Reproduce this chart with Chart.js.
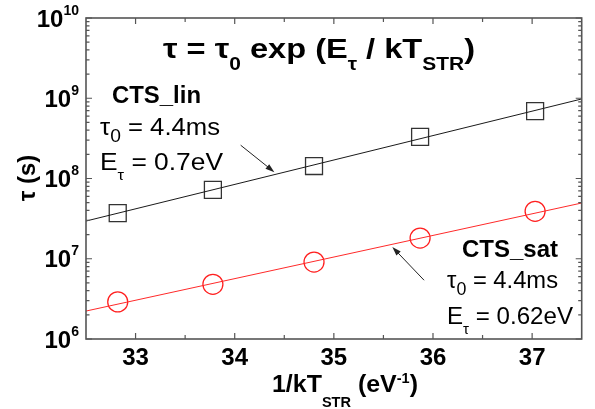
<!DOCTYPE html>
<html><head><meta charset="utf-8">
<script src="https://cdn.jsdelivr.net/npm/chart.js@4/dist/chart.umd.min.js"></script>
<style>html,body{margin:0;padding:0;background:#fff;overflow:hidden}canvas{display:block}</style>
</head><body>
<canvas id="c" width="595" height="409"></canvas>
<script>
// ---- data ----
const xValues   = [32.82, 33.78, 34.80, 35.87, 37.03];   // 1/kT_STR (eV^-1)
const linValues = [3.7e7, 7.2e7, 1.43e8, 3.3e8, 6.9e8];  // CTS_lin tau (s)
const satValues = [2.9e6, 4.8e6, 9.1e6, 1.81e7, 3.9e7];  // CTS_sat tau (s)
const fitX      = [32.5, 37.5];
const linFit    = [2.95e7, 9.8e8];
const satFit    = [2.23e6, 4.95e7];
const xTicks    = [33, 34, 35, 36, 37];
const xMinor    = [33.5, 34.5, 35.5, 36.5];
const yExponents = [6, 7, 8, 9, 10];
const arrowLin  = [[34.06, 2.6e8], [34.40, 1.2e8]];
const arrowSat  = [[35.91, 5.4e6], [35.59, 1.4e7]];

const FAM = '"Liberation Sans", Arial, sans-serif';
function fnt(size, bold){ return (bold ? 'bold ' : '') + size + 'px ' + FAM; }

// rich text: segs = [text, size, bold, dy]
function rich(ctx, x, y, segs, right, align){
  let w = 0;
  segs.forEach(s => { ctx.font = fnt(s[1], s[2]); w += ctx.measureText(s[0]).width; });
  let sx = 1;
  if (right) sx = (right - x) / w;
  if (align === 'right') x = x - w;
  if (align === 'center') x = x - w / 2;
  ctx.save();
  ctx.translate(x, y); ctx.scale(sx, 1);
  ctx.textAlign = 'left'; ctx.textBaseline = 'alphabetic';
  let cx = 0;
  segs.forEach(s => {
    ctx.font = fnt(s[1], s[2]);
    ctx.fillText(s[0], cx, s[3] || 0);
    cx += ctx.measureText(s[0]).width;
  });
  ctx.restore();
}

function arrow(ctx, x1, y1, x2, y2, color){
  ctx.save();
  ctx.strokeStyle = color; ctx.fillStyle = color; ctx.lineWidth = 1;
  const a = Math.atan2(y2 - y1, x2 - x1);
  const L = 9, H = 3;
  ctx.beginPath(); ctx.moveTo(x1, y1);
  ctx.lineTo(x2 - L * Math.cos(a) * 0.8, y2 - L * Math.sin(a) * 0.8); ctx.stroke();
  ctx.beginPath();
  ctx.moveTo(x2, y2);
  ctx.lineTo(x2 - L * Math.cos(a) + H * Math.sin(a), y2 - L * Math.sin(a) - H * Math.cos(a));
  ctx.lineTo(x2 - L * Math.cos(a) - H * Math.sin(a), y2 - L * Math.sin(a) + H * Math.cos(a));
  ctx.closePath(); ctx.fill();
  ctx.restore();
}

const decor = {
  id: 'decor',
  afterDatasetsDraw(chart){
    const ctx = chart.ctx, ca = chart.chartArea;
    const xs = chart.scales.x, ys = chart.scales.y;
    ctx.save();
    // frame
    ctx.strokeStyle = '#555'; ctx.lineWidth = 1.6;
    ctx.strokeRect(ca.left, ca.top, ca.right - ca.left, ca.bottom - ca.top);
    // ticks
    ctx.lineWidth = 1.2;
    ctx.beginPath();
    xTicks.forEach(v => { const p = xs.getPixelForValue(v);
      ctx.moveTo(p, ca.bottom); ctx.lineTo(p, ca.bottom - 6);
      ctx.moveTo(p, ca.top); ctx.lineTo(p, ca.top + 6); });
    xMinor.forEach(v => { const p = xs.getPixelForValue(v);
      ctx.moveTo(p, ca.bottom); ctx.lineTo(p, ca.bottom - 4);
      ctx.moveTo(p, ca.top); ctx.lineTo(p, ca.top + 4); });
    yExponents.forEach(e => {
      const p = ys.getPixelForValue(Math.pow(10, e));
      ctx.moveTo(ca.left, p); ctx.lineTo(ca.left + 6, p);
      ctx.moveTo(ca.right, p); ctx.lineTo(ca.right - 6, p);
      if (e < 10) for (let m = 2; m <= 9; m++) {
        const q = ys.getPixelForValue(m * Math.pow(10, e));
        ctx.moveTo(ca.left, q); ctx.lineTo(ca.left + 3.5, q);
        ctx.moveTo(ca.right, q); ctx.lineTo(ca.right - 3.5, q);
      }
    });
    ctx.stroke();

    ctx.fillStyle = '#000';
    // y tick labels
    yExponents.forEach(e => {
      const p = ys.getPixelForValue(Math.pow(10, e));
      rich(ctx, 79, p + 8.5, [['10', 24, true, 0], [String(e), 14, true, -12]], null, 'right');
    });
    // x tick labels
    xTicks.forEach(v => {
      const p = xs.getPixelForValue(v);
      rich(ctx, p, 365, [[String(v), 24, true, 0]], null, 'center');
    });
    // x title
    rich(ctx, 272, 392, [['1/kT', 24, true, 0], ['STR', 14, true, 15], [' (eV', 24, true, 0], ['-1', 14, true, -9], [')', 24, true, 0]], 418);
    // y title
    ctx.save();
    ctx.translate(35, 178); ctx.rotate(-Math.PI / 2);
    rich(ctx, 0, 0, [['τ (s)', 24, true, 0]], null, 'center');
    ctx.restore();
    // main title
    rich(ctx, 163, 58, [['τ = τ', 28, true, 0], ['0', 18, true, 12], [' exp (E', 28, true, 0], ['τ', 18, true, 12], [' / kT', 28, true, 0], ['STR', 18, true, 12], [')', 28, true, 0]], 475);
    // CTS_lin annotation
    rich(ctx, 112, 103, [['CTS_lin', 24, true, 0]], 201);
    rich(ctx, 100, 135, [['τ', 24, false, 0], ['0', 18, false, 7], [' = 4.4ms', 24, false, 0]], 220);
    rich(ctx, 100, 170, [['E', 24, false, 0], ['τ', 15, false, 10], [' = 0.7eV', 24, false, 0]], 223);
    // CTS_sat annotation
    rich(ctx, 462, 257, [['CTS_sat', 24, true, 0]], 558);
    rich(ctx, 447, 288, [['τ', 24, false, 0], ['0', 18, false, 7], [' = 4.4ms', 24, false, 0]], 558);
    rich(ctx, 447, 324, [['E', 24, false, 0], ['τ', 15, false, 10], [' = 0.62eV', 24, false, 0]], 573);
    // arrows
    arrow(ctx, xs.getPixelForValue(arrowLin[0][0]), ys.getPixelForValue(arrowLin[0][1]),
               xs.getPixelForValue(arrowLin[1][0]), ys.getPixelForValue(arrowLin[1][1]), '#222');
    arrow(ctx, xs.getPixelForValue(arrowSat[0][0]), ys.getPixelForValue(arrowSat[0][1]),
               xs.getPixelForValue(arrowSat[1][0]), ys.getPixelForValue(arrowSat[1][1]), '#222');
    ctx.restore();
  }
};

const pts = (xa, ya) => xa.map((x, i) => ({x: x, y: ya[i]}));

new Chart(document.getElementById('c'), {
  type: 'scatter',
  data: { datasets: [
    { label: 'CTS_lin fit', data: pts(fitX, linFit), showLine: true, borderColor: '#1a1a1a', borderWidth: 1, pointRadius: 0 },
    { label: 'CTS_sat fit', data: pts(fitX, satFit), showLine: true, borderColor: '#ff2a2a', borderWidth: 1, pointRadius: 0 },
    { label: 'CTS_lin', data: pts(xValues, linValues), pointStyle: 'rect', pointRadius: 12, borderColor: '#333', borderWidth: 1.3, backgroundColor: 'rgba(0,0,0,0)', pointHoverRadius: 12 },
    { label: 'CTS_sat', data: pts(xValues, satValues), pointStyle: 'circle', pointRadius: 10, borderColor: '#ff2020', borderWidth: 1.3, backgroundColor: 'rgba(0,0,0,0)', pointHoverRadius: 10 }
  ]},
  options: {
    responsive: false, animation: false, devicePixelRatio: 1,
    layout: { padding: { left: 86, right: 9, top: 18, bottom: 70 } },
    scales: {
      x: { type: 'linear', min: 32.5, max: 37.5, display: false },
      y: { type: 'logarithmic', min: 1e6, max: 1e10, display: false }
    },
    plugins: { legend: { display: false }, tooltip: { enabled: false } },
    events: []
  },
  plugins: [decor]
});
</script>
</body></html>
